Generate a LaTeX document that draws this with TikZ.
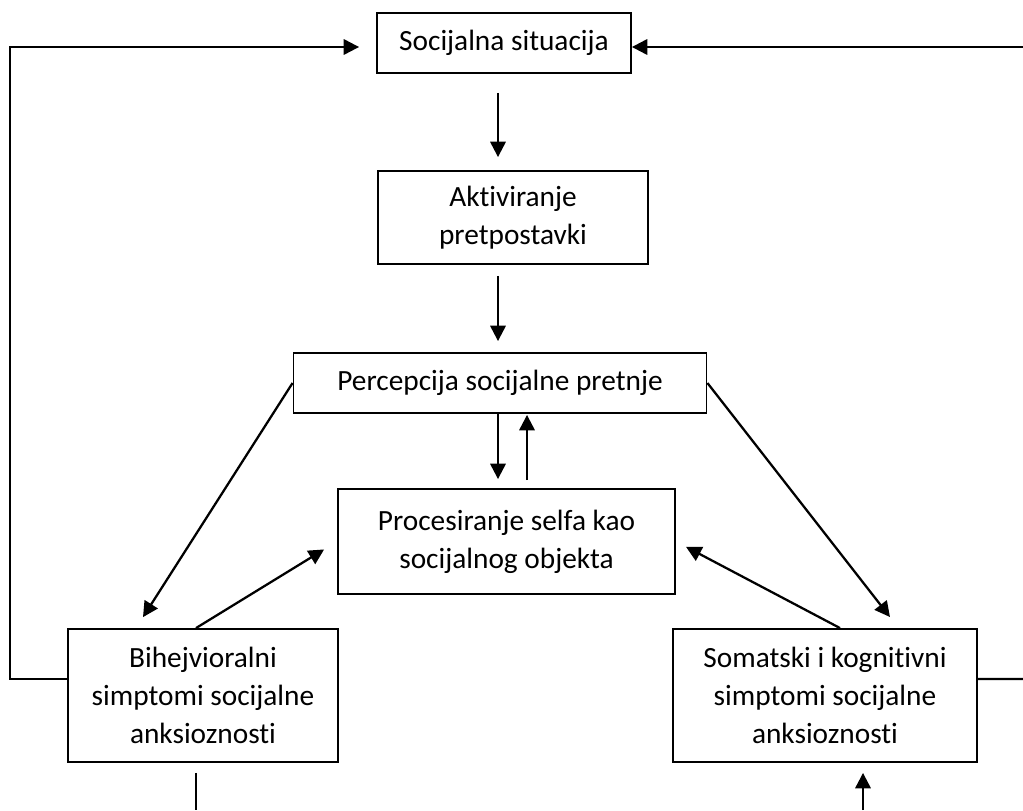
\documentclass[tikz,border=0pt]{standalone}
\usepackage{fontspec}
\setmainfont{Carlito}[Ligatures=NoCommon]
\usetikzlibrary{arrows.meta}

\begin{document}
\begin{tikzpicture}[x=0.75pt,y=-0.75pt,
  box/.style={draw,line width=1.4pt,align=center,inner sep=0pt,
    font=\fontsize{22}{28.5}\selectfont},
  link/.style={line width=1.7pt},
  arr/.style={link,-{Triangle[length=11.5pt,width=11.5pt]}}]
\useasboundingbox (0,0) rectangle (1023,810);
\node[box,minimum width=190.5pt,minimum height=45pt] (sit) at (504,43) {Socijalna situacija};
\node[box,minimum width=202.5pt,minimum height=69.75pt] (akt) at (513,217.5) {Aktiviranje\\pretpostavki};
\node[box,minimum width=309.75pt,minimum height=45pt] (perc) at (500,383) {Percepcija socijalne pretnje};
\node[box,minimum width=252.75pt,minimum height=78.75pt] (proc) at (506.5,541.5) {Procesiranje selfa kao\\socijalnog objekta};
\node[box,minimum width=202.5pt,minimum height=99.75pt] (bih) at (203,695.5) {Bihejvioralni\\simptomi socijalne\\anksioznosti};
\node[box,minimum width=228pt,minimum height=99.75pt] (som) at (825,695.5) {Somatski i kognitivni\\simptomi socijalne\\anksioznosti};
\coordinate (spine) at (498,0);
\coordinate (spineB) at (527,0);
\coordinate (rimT) at (1023,47);
\coordinate (rimB) at (1023,679);
\coordinate (botL) at (196,810);
\coordinate (botR) at (863,810);
% main column
\draw[arr,shorten <=14.25pt,shorten >=9.75pt] (sit.south -| spine) -- (akt.north -| spine);
\draw[arr,shorten <=8.25pt,shorten >=8.25pt] (akt.south -| spine) -- (perc.north -| spine);
\draw[arr,shorten >=6.75pt] (perc.south -| spine) -- (proc.north -| spine);
\draw[arr,shorten <=6pt,shorten >=0.75pt] (proc.north -| spineB) -- (perc.south -| spineB);
% diagonals
\draw[arr,shorten >=9.75pt] (perc.west) -- ([xshift=-50.25pt]bih.north);
\draw[arr,shorten >=10.5pt] (perc.east) -- ([xshift=55.2pt]som.north);
\draw[arr,shorten >=11.4pt] ([xshift=-5.25pt]bih.north) -- (proc.west);
\draw[arr,shorten >=8.5pt] ([xshift=11.25pt]som.north) -- (proc.east);
% feedback loops
\draw[arr,shorten >=12.75pt] ([yshift=12.4pt]bih.west) -| (10,47) -- ([yshift=-3pt]sit.west);
\draw[arr] (rimT) -- ([yshift=-3pt]sit.east);
\draw[link] ([yshift=12.4pt]som.east) -- (rimB);
\draw[link,shorten <=7.5pt] ([xshift=-5.25pt]bih.south) -- (botL);
\draw[arr,shorten >=7.5pt] (botR) -- ([xshift=28.5pt]som.south);
\end{tikzpicture}
\end{document}
